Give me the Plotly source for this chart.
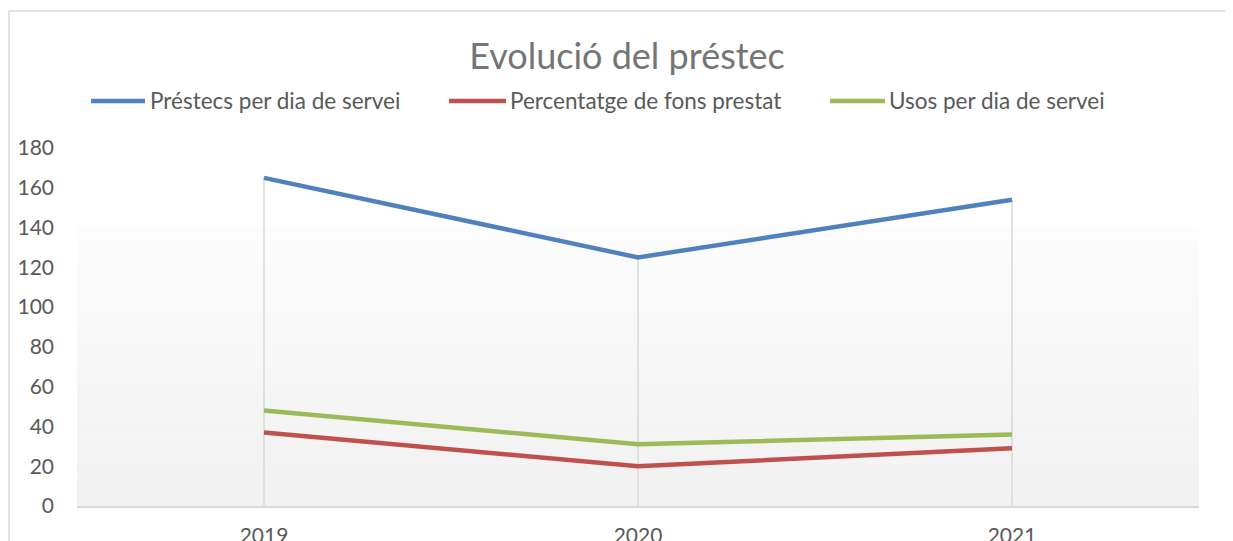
import plotly.graph_objects as go

years = ["2019", "2020", "2021"]
prestecs = [165, 125, 154]
percentatge = [37, 20, 29]
usos = [48, 31, 36]
series_names = ["Préstecs per dia de servei", "Percentatge de fons prestat", "Usos per dia de servei"]
series_colors = ["#4F81BD", "#C0504D", "#9BBB59"]
title_text = "Evolució del préstec"
y_ticks = [0, 20, 40, 60, 80, 100, 120, 140, 160, 180]

W, H = 1233, 541
OFF = 8  # page offset of the figure inside the browser window
# plot area in page pixels
PL, PR, PT, PB = 77, 1199, 148, 506
L = PL - OFF
T = PT - OFF
R = W - (PR - OFF)
B = H - (PB - OFF)
FONT = "Lato"

pw = W - L - R
ph = H - T - B
def px_x(p):
    return (p - OFF - L) / pw
def px_y(p):
    return (H - B - (p - OFF)) / ph

fig = go.Figure()

# drop lines from axis to the highest series value
all_series = [prestecs, percentatge, usos]
dx, dy = [], []
for i, yr in enumerate(years):
    top = max(s[i] for s in all_series)
    dx += [yr, yr, None]
    dy += [0, top, None]
fig.add_trace(go.Scatter(x=dx, y=dy, mode="lines", line=dict(color="#d9d9d9", width=1.5),
                         showlegend=False, hoverinfo="skip"))

for name, vals, col in zip(series_names, all_series, series_colors):
    fig.add_trace(go.Scatter(x=years, y=vals, mode="lines", name=name, showlegend=False,
                             line=dict(color=col, width=4.5)))

# gradient background in the lower part of the plot area
shapes = []
n = 50
g_top = 140
for k in range(n):
    y0 = g_top * k / n
    y1 = g_top * (k + 1) / n
    t = k / (n - 1)
    c = int(round(241 + (252 - 241) * t))
    shapes.append(dict(type="rect", xref="paper", yref="y", x0=0, x1=1, y0=y0, y1=y1,
                       fillcolor=f"rgb({c},{c},{c})", line=dict(width=0), layer="below"))

# chart border (top and left visible)
shapes.append(dict(type="line", xref="paper", yref="paper", x0=px_x(9), x1=px_x(1260),
                   y0=px_y(11), y1=px_y(11), line=dict(color="#d9d9d9", width=1.5)))
shapes.append(dict(type="line", xref="paper", yref="paper", x0=px_x(9), x1=px_x(9),
                   y0=px_y(11), y1=px_y(600), line=dict(color="#d9d9d9", width=1.5)))

# legend drawn manually (line sample + label) to match the original layout
legend_line_x = [(91, 145), (449, 506), (830, 885)]
legend_text_x = [148, 508, 887]
legend_y = 101
annotations = []
for name, col, (lx0, lx1), tx in zip(series_names, series_colors, legend_line_x, legend_text_x):
    shapes.append(dict(type="line", xref="paper", yref="paper", x0=px_x(lx0), x1=px_x(lx1),
                       y0=px_y(legend_y), y1=px_y(legend_y), line=dict(color=col, width=4.5)))
    annotations.append(dict(text=name, xref="paper", yref="paper", x=px_x(tx), y=px_y(legend_y),
                            xanchor="left", yanchor="middle", showarrow=False,
                            font=dict(family=FONT, size=22.5, color="#595959")))

fig.update_layout(
    width=W, height=H,
    margin=dict(l=L, r=R, t=T, b=B, autoexpand=False),
    paper_bgcolor="white", plot_bgcolor="white",
    font=dict(family=FONT, color="#595959", size=21),
    title=dict(text=title_text, x=(627 - OFF) / W, xref="container", xanchor="center",
               y=1 - (56 - OFF) / H, yanchor="middle", yref="container",
               font=dict(family=FONT, size=36, color="#757575")),
    showlegend=False,
    shapes=shapes,
    annotations=annotations,
    xaxis=dict(type="category", range=[-0.5, 2.5], showgrid=False, zeroline=False,
               showline=True, linecolor="#d9d9d9", linewidth=1.5, ticks="",
               ticklabelstandoff=10,
               tickfont=dict(size=21, color="#595959"), automargin=False),
    yaxis=dict(range=[0, 180], tickvals=y_ticks, showgrid=False, zeroline=False,
               showline=False, ticks="", ticklabelstandoff=22,
               tickfont=dict(size=21, color="#595959"), automargin=False),
)

fig.write_html("out.html")
